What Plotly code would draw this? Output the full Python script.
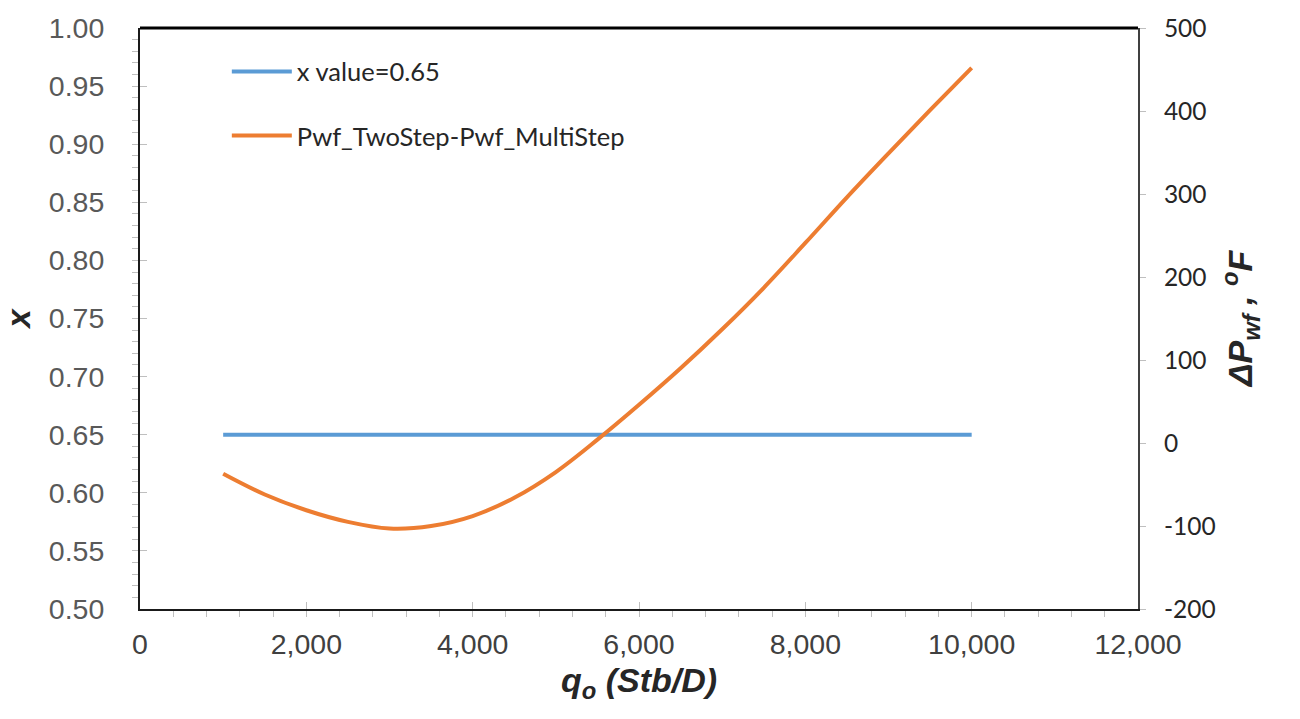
import plotly.graph_objects as go

# Data
q_values = [1000, 1500, 2000, 2500, 3000, 3500, 4000, 4500, 5000, 5500,
            6000, 6500, 7000, 7500, 8000, 8500, 9000, 9500, 10000]
x_value = [0.65] * len(q_values)
dpwf = [-37, -62, -81, -95, -103, -100, -88, -66, -35, 4,
        46, 90, 137, 187, 241, 296, 349, 401, 452]

series1_name = "x value=0.65"
series2_name = "Pwf_TwoStep-Pwf_MultiStep"

x_tickvals = [0, 2000, 4000, 6000, 8000, 10000, 12000]
x_ticktext = ["0", "2,000", "4,000", "6,000", "8,000", "10,000", "12,000"]
y2_tickvals = [-200, -100, 0, 100, 200, 300, 400, 500]
y2_ticktext = ["-200", "-100", "0", "100", "200", "300", "400", "500"]

fig = go.Figure()
fig.add_trace(go.Scatter(x=q_values, y=x_value, mode="lines", name=series1_name,
                         line=dict(color="#5B9BD5", width=4), legendgroup="a"))
fig.add_trace(go.Scatter(x=q_values, y=dpwf, mode="lines", name=series2_name,
                         line=dict(color="#ED7D31", width=4, shape="spline", smoothing=1.0),
                         yaxis="y2", legendgroup="b"))

fig.update_layout(
    width=1300, height=719,
    margin=dict(l=140, r=162, t=22, b=110),
    plot_bgcolor="white", paper_bgcolor="white",
    showlegend=True,
    legend=dict(x=0.087, y=0.965, xanchor="left", yanchor="top",
                font=dict(family="Lato", size=25.5, color="#262626"),
                bgcolor="rgba(0,0,0,0)", tracegroupgap=28, traceorder="grouped",
                itemwidth=60),
    xaxis=dict(range=[0, 12000], tickvals=x_tickvals, ticktext=x_ticktext,
               showgrid=False, zeroline=False,
               showline=True, linecolor="#1a1a1a", linewidth=2,
               ticks="inside", ticklen=7, tickcolor="#bfbfbf", tickwidth=1,
               minor=dict(dtick=400, ticks="outside", ticklen=6, tickcolor="#bfbfbf", tickwidth=1),
               tickfont=dict(family="Liberation Sans", size=28.5, color="#404040"),
               ticklabelstandoff=9,
               title=dict(text="<b><i>q<sub>o</sub> (Stb/D)</i></b>",
                          font=dict(family="Liberation Sans", size=34, color="#262626"),
                          standoff=9)),
    yaxis=dict(range=[0.5, 1.0], dtick=0.05, tickformat=".2f",
               showgrid=False, zeroline=False,
               showline=True, linecolor="#1a1a1a", linewidth=2,
               ticks="inside", ticklen=7, tickcolor="#bfbfbf", tickwidth=1,
               minor=dict(dtick=0.01, ticks="outside", ticklen=6, tickcolor="#bfbfbf", tickwidth=1),
               tickfont=dict(family="Liberation Sans", size=28.5, color="#595959"),
               ticklabelstandoff=28,
               title=dict(text="<b><i>x</i></b>",
                          font=dict(family="Liberation Sans", size=33, color="#262626"),
                          standoff=12)),
    yaxis2=dict(range=[-200, 500], tickvals=y2_tickvals, ticktext=y2_ticktext,
                overlaying="y", side="right",
                showgrid=False, zeroline=False,
                showline=True, linecolor="#404040", linewidth=2,
                ticks="outside", ticklen=6, tickcolor="#bfbfbf", tickwidth=1,
                tickfont=dict(family="Lato", size=24.5, color="#262626"),
                ticklabelstandoff=13,
                title=dict(text="<b><i>ΔP<sub>wf</sub> , <sup>o</sup>F</i></b>",
                           font=dict(family="Liberation Sans", size=34, color="#262626"),
                           standoff=14)),
)

# Thick top border of the plot area
fig.add_shape(type="line", xref="paper", yref="paper", x0=0, x1=1, y0=1, y1=1,
              line=dict(color="black", width=3))

fig.write_html("out.html")
